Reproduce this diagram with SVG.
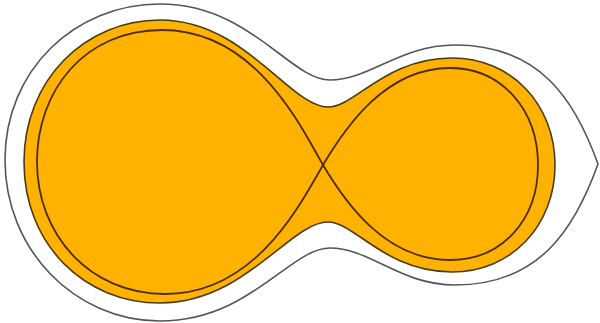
<svg xmlns="http://www.w3.org/2000/svg" width="600" height="323" viewBox="0 0 600 323">
<style>
.outer{fill:#ffffff;stroke:#555555;stroke-width:1.6}
.fill{fill:#FFB200;stroke:#4a3b12;stroke-width:1.6}
.lobe{fill:none;stroke:#4e2c0c;stroke-width:1.8}
</style>
<rect width="600" height="323" fill="#ffffff"/>
<g id="outer-contour">
<path class="outer" d="M5,160 C5,70 75,4 160,4 C250,4 290,80 330,80 C370,80 400,45 455,45 C540,45 575,100 598,164 C575,228 540,285 455,285 C400,285 370,248 330,248 C290,248 250,321 160,321 C75,321 5,250 5,160 Z"/>
</g>
<g id="filled-envelope">
<path class="fill" d="M24,162 C24,80 85,20 160,20 C245,20 290,107 328,107 C355,107 385,58 452,58 C512,58 555,105 555,165 C555,225 512,272 452,272 C385,272 355,222 328,222 C290,222 245,303 160,303 C85,303 24,245 24,162 Z"/>
</g>
<g id="roche-lobes">
<path class="lobe" d="M323,165 C300,125 255,30 162,30 C85,30 37,90 37,162 C37,235 90,294 165,294 C255,294 300,205 323,165 C345,128 385,68 450,68 C502,68 538,110 538,165 C538,220 502,260 450,260 C385,260 345,202 323,165 Z"/>
</g>
</svg>
